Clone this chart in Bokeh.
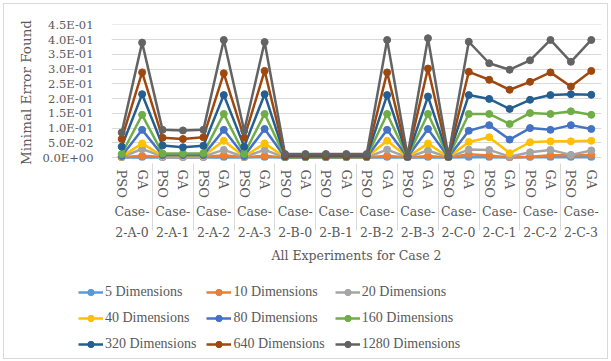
from bokeh.plotting import figure
from bokeh.layouts import column
from bokeh.models import (FactorRange, Range1d, FixedTicker, CustomJSTickFormatter,
                          Legend, LegendItem, ColumnDataSource)
from bokeh.embed import file_html
from bokeh.resources import INLINE

cases = ["Case-\n2-A-0", "Case-\n2-A-1", "Case-\n2-A-2", "Case-\n2-A-3",
         "Case-\n2-B-0", "Case-\n2-B-1", "Case-\n2-B-2", "Case-\n2-B-3",
         "Case-\n2-C-0", "Case-\n2-C-1", "Case-\n2-C-2", "Case-\n2-C-3"]
methods = ["PSO", "GA"]

series_names = ["5 Dimensions", "10 Dimensions", "20 Dimensions",
                "40 Dimensions", "80 Dimensions", "160 Dimensions",
                "320 Dimensions", "640 Dimensions", "1280 Dimensions"]

d5 = [0.0004, 0.001, 0.0005, 0.0005, 0.0005, 0.001, 0.0004, 0.001, 0.0002, 0.0002, 0.0002, 0.0002,
      0.0002, 0.001, 0.0002, 0.001, 0.0002, 0.001, 0.001, 0.0003, 0.001, 0.001, 0.001, 0.001]
d10 = [0.001, 0.006, 0.002, 0.002, 0.002, 0.008, 0.001, 0.006, 0.0004, 0.0004, 0.0004, 0.0004,
       0.0004, 0.006, 0.0004, 0.005, 0.0004, 0.011, 0.007, 0.0005, 0.003, 0.008, 0.008, 0.009]
d20 = [0.002, 0.029, 0.004, 0.004, 0.004, 0.026, 0.002, 0.026, 0.0006, 0.0006, 0.0006, 0.0006,
       0.0006, 0.027, 0.0006, 0.024, 0.0006, 0.027, 0.026, 0.003, 0.018, 0.026, 0.009, 0.024]
d40 = [0.003, 0.048, 0.005, 0.005, 0.005, 0.057, 0.003, 0.048, 0.001, 0.001, 0.001, 0.001,
       0.001, 0.057, 0.001, 0.048, 0.001, 0.053, 0.069, 0.015, 0.052, 0.055, 0.055, 0.057]
d80 = [0.005, 0.094, 0.008, 0.008, 0.008, 0.094, 0.005, 0.097, 0.001, 0.001, 0.001, 0.001,
       0.001, 0.094, 0.001, 0.097, 0.001, 0.091, 0.110, 0.061, 0.100, 0.094, 0.110, 0.097]
d160 = [0.012, 0.145, 0.014, 0.014, 0.015, 0.148, 0.012, 0.148, 0.002, 0.002, 0.002, 0.002,
        0.002, 0.148, 0.002, 0.148, 0.002, 0.148, 0.148, 0.114, 0.151, 0.148, 0.157, 0.145]
d320 = [0.037, 0.215, 0.041, 0.035, 0.040, 0.212, 0.037, 0.215, 0.004, 0.004, 0.004, 0.004,
        0.004, 0.212, 0.003, 0.207, 0.003, 0.212, 0.199, 0.165, 0.196, 0.212, 0.215, 0.213]
d640 = [0.063, 0.289, 0.067, 0.063, 0.069, 0.286, 0.067, 0.294, 0.008, 0.008, 0.008, 0.008,
        0.008, 0.289, 0.004, 0.302, 0.004, 0.291, 0.264, 0.230, 0.257, 0.289, 0.241, 0.294]
d1280 = [0.085, 0.390, 0.094, 0.092, 0.094, 0.399, 0.091, 0.392, 0.012, 0.012, 0.012, 0.012,
         0.012, 0.399, 0.006, 0.405, 0.006, 0.393, 0.320, 0.298, 0.330, 0.399, 0.325, 0.399]

series_values = [d5, d10, d20, d40, d80, d160, d320, d640, d1280]
colors = ["#5B9BD5", "#ED7D31", "#A5A5A5", "#FFC000", "#4472C4", "#70AD47",
          "#255E91", "#9E480E", "#636363"]

y_ticks = [0.0, 0.05, 0.10, 0.15, 0.20, 0.25, 0.30, 0.35, 0.40, 0.45]

factors = [(c, m) for c in cases for m in methods]

TXT = "#595959"
GRID = "#D9D9D9"
SERIF = "DejaVu Serif"

p = figure(x_range=FactorRange(*factors, factor_padding=0, group_padding=0,
                               subgroup_padding=0, range_padding=0),
           y_range=Range1d(-0.01, 0.4515),
           width=603, height=268,
           min_border_left=107, min_border_right=6, min_border_top=20,
           min_border_bottom=112,
           output_backend="svg", toolbar_location=None,
           background_fill_color="white", border_fill_color="white")
p.outline_line_color = None

p.yaxis.ticker = FixedTicker(ticks=y_ticks)
p.yaxis.formatter = CustomJSTickFormatter(code="""
    if (Math.abs(tick) < 1e-12) { return "0.0E+00"; }
    const s = tick.toExponential(1);
    const parts = s.split("e");
    const n = parseInt(parts[1]);
    const a = Math.abs(n);
    return parts[0] + "E" + (n < 0 ? "-" : "+") + (a < 10 ? "0" : "") + a;
""")
p.yaxis.axis_line_color = None
p.yaxis.major_tick_line_color = None
p.yaxis.minor_tick_line_color = None
p.yaxis.major_label_text_font = SERIF
p.yaxis.major_label_text_font_size = "11.5px"
p.yaxis.major_label_text_color = TXT
p.yaxis.major_label_standoff = 12
p.yaxis.axis_label = "Minimal Error Found"
p.yaxis.axis_label_text_font = SERIF
p.yaxis.axis_label_text_font_size = "13.5px"
p.yaxis.axis_label_text_font_style = "normal"
p.yaxis.axis_label_text_color = TXT
p.yaxis.axis_label_standoff = 6

p.ygrid.grid_line_color = GRID
p.ygrid.grid_line_width = 1
p.xgrid.grid_line_color = None

xa = p.xaxis[0]
xa.axis_line_color = None
xa.major_tick_line_color = None
xa.minor_tick_line_color = None
xa.major_label_orientation = "vertical"
xa.major_label_standoff = 3
xa.major_label_text_font = SERIF
xa.major_label_text_font_size = "13px"
xa.major_label_text_color = TXT
xa.group_text_font = SERIF
xa.group_text_font_size = "12.5px"
xa.group_text_font_style = "normal"
xa.group_text_line_height = 1.4
xa.group_text_color = TXT
xa.separator_line_color = GRID
xa.separator_line_width = 1
xa.axis_label = "All Experiments for Case 2"
xa.axis_label_standoff = 5
xa.axis_label_text_font = SERIF
xa.axis_label_text_font_size = "12.5px"
xa.axis_label_text_font_style = "normal"
xa.axis_label_text_color = TXT

for name, vals, col in zip(series_names, series_values, colors):
    src = ColumnDataSource(data=dict(x=factors, y=vals))
    p.line("x", "y", source=src, line_color=col, line_width=2.5)
    p.scatter("x", "y", source=src, size=7, fill_color=col, line_color=col)

# legend panel (separate figure below the chart); proxy renderers sit outside its ranges
lg = figure(width=603, height=86, x_range=Range1d(0, 1), y_range=Range1d(0, 1),
            x_axis_location=None, y_axis_location=None,
            min_border=0, min_border_left=0, min_border_right=0,
            min_border_top=0, min_border_bottom=0,
            output_backend="svg", toolbar_location=None,
            background_fill_color="white", border_fill_color="white")
lg.frame_align = False
lg.outline_line_color = None
lg.grid.grid_line_color = None
items = []
for name, col in zip(series_names, colors):
    lr = lg.line(x=[5, 6], y=[5, 5], line_color=col, line_width=2.5)
    sr = lg.scatter(x=[5], y=[5], size=7, fill_color=col, line_color=col)
    items.append(LegendItem(label=name, renderers=[lr, sr]))

legend = Legend(items=items, ncols=3, orientation="horizontal",
                location=(74, 6),
                label_text_font="Liberation Serif", label_text_font_size="14px",
                label_text_color=TXT, glyph_width=25, glyph_height=16,
                label_height=16, label_standoff=2, spacing=10, padding=0,
                margin=0, border_line_color=None, background_fill_alpha=0)
lg.add_layout(legend, "center")

layout = column(p, lg, spacing=0,
                styles={"border": "1px solid #D9D9D9", "margin-left": "3px",
                        "margin-top": "3px"})

open("out.html", "w").write(file_html(layout, INLINE))
